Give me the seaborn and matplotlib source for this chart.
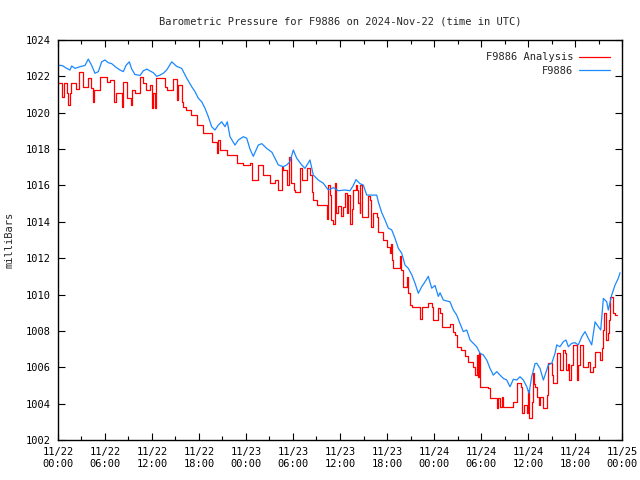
import matplotlib
matplotlib.use("Agg")
import matplotlib.pyplot as plt
import pandas as pd
import seaborn as sns
from matplotlib.ticker import MultipleLocator

# hours after 2024-11-22 00:00 UTC, pressure in millibars
blue_hours = [0.0, 0.51, 1.11, 1.53, 1.75, 2.17, 2.81, 3.45, 3.87, 4.30, 4.72, 5.15, 5.58, 6.00,
              6.42, 6.85, 7.40, 7.91, 8.34, 8.68, 9.10, 9.41, 9.83, 10.47, 10.89, 11.32, 11.75,
              12.17, 12.60, 13.02, 13.44, 13.88, 14.52, 15.15, 15.79, 16.00, 16.43, 17.07, 17.49,
              17.91, 18.35, 18.77, 19.19, 19.62, 20.04, 20.46, 20.90, 21.32, 21.61, 21.96, 22.60,
              23.02, 23.66, 24.09, 24.51, 24.93, 25.57, 26.01, 26.64, 27.32, 28.12, 28.76, 29.20,
              29.62, 30.04, 30.47, 31.11, 31.53, 32.17, 32.59, 33.23, 33.87, 34.51, 35.15, 35.78,
              36.64, 37.28, 37.70, 38.04, 38.55, 38.98, 39.41, 40.69, 40.89, 41.33, 41.75, 42.17,
              42.60, 43.02, 43.44, 43.88, 44.30, 44.72, 45.15, 45.58, 46.00, 46.43, 46.85, 47.27,
              47.71, 48.13, 48.55, 48.77, 49.19, 50.04, 50.47, 50.90, 51.32, 51.74, 52.18, 52.60,
              53.02, 53.45, 53.87, 54.29, 54.73, 55.15, 55.57, 56.01, 56.43, 56.85, 57.28, 57.70,
              58.13, 58.56, 58.98, 59.40, 59.84, 60.13, 60.47, 60.90, 61.12, 61.53, 61.96, 62.39,
              62.59, 63.03, 63.45, 63.66, 64.08, 64.51, 64.85, 65.15, 65.58, 66.00, 66.42, 66.86,
              67.28, 67.70, 68.13, 68.56, 68.98, 69.28, 69.62, 70.05, 70.25, 70.69, 71.11, 71.53,
              71.75]
blue_mb = [1022.6, 1022.6, 1022.44, 1022.35, 1022.57, 1022.44, 1022.53, 1022.6, 1022.95, 1022.6,
           1022.17, 1022.26, 1022.8, 1022.9, 1022.75, 1022.7, 1022.5, 1022.35, 1022.26, 1022.6,
           1022.8, 1022.4, 1022.1, 1022.05, 1022.3, 1022.4, 1022.3, 1022.2, 1022.0, 1022.07,
           1022.17, 1022.35, 1022.8, 1022.55, 1022.44, 1022.26, 1021.9, 1021.43, 1021.16, 1020.8,
           1020.6, 1020.24, 1019.78, 1019.23, 1019.05, 1019.32, 1019.5, 1019.23, 1019.5, 1018.68,
           1018.22, 1018.5, 1018.68, 1018.6, 1018.0, 1017.6, 1018.22, 1018.3, 1018.04, 1017.82,
           1017.13, 1017.03, 1017.13, 1017.31, 1017.95, 1017.5, 1017.13, 1016.94, 1017.4, 1016.57,
           1016.3, 1016.12, 1015.75, 1015.88, 1015.71, 1015.75, 1015.71, 1016.0, 1016.32, 1016.1,
           1016.02, 1015.47, 1015.47, 1015.1, 1014.5, 1014.1, 1013.65, 1013.56, 1013.1, 1012.55,
           1012.27, 1011.62, 1011.44, 1011.1, 1010.62, 1010.07, 1010.43, 1010.7, 1011.0, 1010.35,
           1010.5, 1009.9, 1010.1, 1009.7, 1009.6, 1009.15, 1008.87, 1008.4, 1007.96, 1008.05,
           1007.5, 1007.32, 1007.13, 1006.77, 1006.68, 1006.4, 1005.94, 1005.57, 1005.76, 1005.57,
           1005.39, 1005.3, 1004.93, 1005.34, 1005.3, 1005.48, 1005.3, 1004.93, 1004.57, 1005.48,
           1006.2, 1006.22, 1005.94, 1005.3, 1005.85, 1006.13, 1006.22, 1006.77, 1007.23, 1007.13,
           1007.41, 1007.5, 1007.13, 1007.32, 1007.35, 1007.23, 1007.68, 1007.96, 1007.59, 1007.23,
           1008.5, 1008.23, 1008.05, 1009.79, 1009.6, 1009.15, 1009.98, 1010.52, 1010.9, 1011.2]

red_hours = [0.00, 0.51, 0.77, 1.15, 1.31, 1.53, 1.62, 2.30, 2.72, 3.23, 3.87, 4.17, 4.47, 4.60,
             5.36, 6.22, 6.64, 7.21, 7.40, 8.17, 8.36, 8.85, 9.32, 9.51, 9.83, 10.47, 10.81, 11.23,
             11.75, 12.00, 12.13, 12.38, 12.57, 13.66, 13.91, 14.72, 15.15, 15.32, 15.83, 16.00,
             16.34, 16.94, 17.75, 18.55, 19.62, 20.26, 20.46, 20.68, 21.61, 22.81, 23.66, 24.51,
             24.77, 25.53, 26.17, 27.07, 27.70, 28.09, 28.60, 28.76, 29.20, 29.49, 29.75, 30.13,
             30.26, 30.89, 31.09, 31.79, 32.17, 32.43, 32.59, 33.07, 34.34, 34.51, 34.66, 34.79,
             35.11, 35.30, 35.49, 35.75, 36.13, 36.38, 36.64, 36.86, 37.06, 37.28, 37.50, 37.66,
             38.04, 38.17, 38.34, 38.49, 38.55, 38.77, 38.87, 39.58, 39.83, 40.02, 40.21, 40.73,
             40.89, 41.49, 42.00, 42.39, 42.51, 42.60, 42.77, 43.66, 43.79, 44.04, 44.55, 44.68,
             44.94, 45.19, 46.21, 46.47, 47.24, 47.75, 47.87, 48.51, 48.77, 49.02, 50.04, 50.43,
             50.68, 50.94, 51.45, 51.96, 52.34, 52.98, 53.24, 53.45, 53.62, 53.75, 53.87, 54.89,
             55.15, 56.04, 56.17, 56.43, 56.62, 56.81, 58.13, 58.60, 59.11, 59.24, 59.49, 59.88,
             60.04, 60.13, 60.51, 60.68, 60.77, 60.90, 61.15, 61.41, 61.53, 61.92, 62.39, 62.49,
             62.59, 63.03, 63.19, 63.66, 64.08, 64.47, 64.66, 64.85, 65.15, 65.28, 65.49, 65.75,
             66.26, 66.42, 66.64, 67.02, 67.66, 67.92, 68.30, 68.56, 69.19, 69.45, 69.58, 69.71,
             69.96, 70.15, 70.34, 70.47, 70.85, 71.11, 71.37]
red_mb = [1021.62, 1020.88, 1021.62, 1021.1, 1020.43, 1021.1, 1021.62, 1021.29, 1022.26, 1021.43,
          1021.9, 1021.34, 1020.6, 1021.25, 1021.98, 1021.7, 1021.8, 1020.6, 1021.07, 1020.33,
          1021.7, 1020.8, 1020.4, 1021.25, 1021.07, 1021.98, 1021.62, 1021.25, 1021.5, 1020.24,
          1021.1, 1020.24, 1021.9, 1021.43, 1021.25, 1021.84, 1020.7, 1021.5, 1020.6, 1020.33,
          1020.15, 1019.88, 1019.35, 1018.9, 1018.4, 1017.8, 1018.5, 1017.95, 1017.67, 1017.22,
          1017.1, 1017.22, 1016.3, 1017.13, 1016.57, 1016.12, 1016.3, 1015.75, 1017.03, 1016.85,
          1016.0, 1017.55, 1016.12, 1015.75, 1015.66, 1016.94, 1016.3, 1016.94, 1016.57, 1015.66,
          1015.2, 1014.9, 1014.13, 1016.02, 1015.47, 1014.1, 1013.9, 1016.12, 1014.5, 1014.87,
          1014.3, 1014.8, 1015.57, 1014.47, 1015.47, 1013.9, 1014.7, 1015.75, 1016.02, 1015.75,
          1015.02, 1014.47, 1016.0, 1015.3, 1014.28, 1015.4, 1015.2, 1013.73, 1014.47, 1014.28,
          1013.45, 1013.0, 1012.63, 1012.27, 1012.8, 1011.9, 1011.44, 1012.1, 1011.35, 1010.43,
          1010.97, 1010.07, 1009.42, 1009.33, 1008.68, 1009.33, 1009.52, 1009.33, 1008.6, 1009.25,
          1009.0, 1008.23, 1008.4, 1007.96, 1007.8, 1007.13, 1006.95, 1006.6, 1006.3, 1006.04,
          1005.57, 1006.68, 1005.48, 1006.77, 1004.93, 1004.85, 1004.29, 1003.74, 1004.29, 1003.83,
          1004.38, 1003.8, 1004.1, 1005.11, 1004.93, 1003.47, 1003.9, 1003.47, 1004.75, 1003.2,
          1004.1, 1005.66, 1005.1, 1004.93, 1004.38, 1003.92, 1004.38, 1003.74, 1004.47, 1004.93,
          1006.22, 1005.57, 1005.11, 1006.77, 1005.85, 1006.95, 1006.77, 1005.85, 1006.2, 1005.3,
          1006.13, 1007.23, 1005.3, 1006.13, 1007.23, 1006.04, 1006.3, 1005.76, 1006.0, 1006.86,
          1006.4, 1007.04, 1008.05, 1008.97, 1007.5, 1007.9, 1008.6, 1009.88, 1008.97, 1008.9,
          1008.9]

tick_hours = list(range(0, 73, 6))
tick_labels = ["11/22\n00:00", "11/22\n06:00", "11/22\n12:00", "11/22\n18:00",
               "11/23\n00:00", "11/23\n06:00", "11/23\n12:00", "11/23\n18:00",
               "11/24\n00:00", "11/24\n06:00", "11/24\n12:00", "11/24\n18:00",
               "11/25\n00:00"]

obs = pd.DataFrame({"hour": blue_hours, "mb": blue_mb})
ana = pd.DataFrame({"hour": red_hours, "mb": red_mb})

sns.set_style("ticks")
plt.rcParams["font.family"] = ["DejaVu Sans Mono"]
plt.rcParams["font.size"] = 7.5

fig = plt.figure(figsize=(6.4, 4.8), dpi=100)
ax = fig.add_axes([0.0906, 0.0833, 0.8813, 0.8334])

sns.lineplot(data=ana, x="hour", y="mb", ax=ax, color="#ff0000", lw=0.9,
             drawstyle="steps-post", label="F9886 Analysis", estimator=None)
sns.lineplot(data=obs, x="hour", y="mb", ax=ax, color="#1a88ff", lw=0.9,
             label="F9886", estimator=None)

ax.set_xlim(0, 72)
ax.set_ylim(1002, 1024)
ax.set_xticks(tick_hours)
ax.set_xticklabels(tick_labels)
ax.xaxis.set_minor_locator(MultipleLocator(3))
ax.set_yticks(range(1002, 1025, 2))
ax.tick_params(which="both", direction="in", top=True, right=True, color="black",
               labelcolor="black", width=0.8)
ax.tick_params(which="major", length=5, pad=5)
ax.tick_params(which="minor", length=3)
for s in ax.spines.values():
    s.set_color("black")
    s.set_linewidth(1.0)

ax.set_xlabel("")
ax.set_ylabel("milliBars", labelpad=8)
ax.set_title("Barometric Pressure for F9886 on 2024-Nov-22 (time in UTC)", pad=11,
             fontsize=7.5)

leg = ax.legend(loc="upper right", frameon=False, markerfirst=False, handlelength=2.9,
                handletextpad=0.6, borderaxespad=0.8, labelspacing=0.3, fontsize=7.5)

fig.savefig("out.png", dpi=100)
